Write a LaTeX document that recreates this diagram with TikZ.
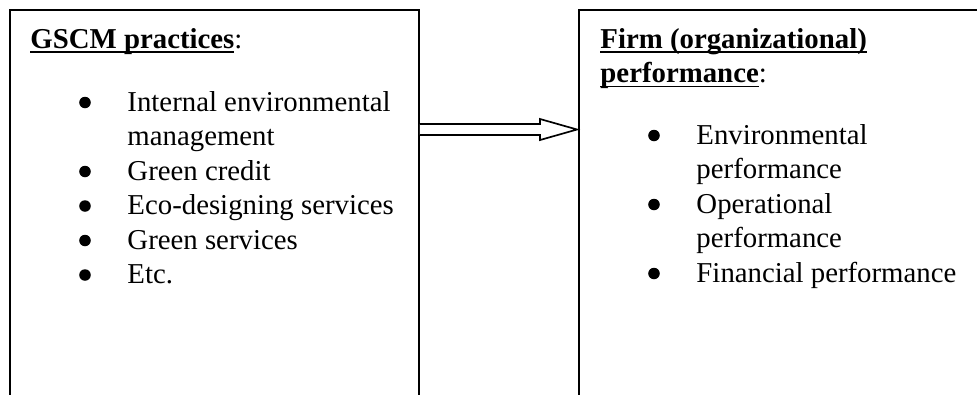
\documentclass[tikz,border=0pt]{standalone}
\usepackage{fontspec}
\setmainfont{Liberation Serif}
\usetikzlibrary{fit,calc}
\newcommand{\myul}[1]{\setbox0\hbox{#1}\rlap{\vrule height -1.25pt depth 2.0pt width \wd0}\box0}
\tikzset{
  boxst/.style={draw, line width=0.8pt, inner sep=0pt},
  txt/.style={anchor=base west, inner sep=0pt, font=\fontsize{12}{14.4}\selectfont},
  bul/.style={circle, fill=black, inner sep=0pt, minimum size=4.8pt},
  arr/.style={draw, line width=0.7pt, fill=white, line join=miter}
}
\begin{document}
\begin{tikzpicture}[x=0.41667pt, y=-0.41667pt]
\useasboundingbox (0,0) rectangle (977,394);
\clip (0,0) rectangle (977,394);
% boxes
\node[boxst, fit={(10,10) (419,440)}] (L) {};
\node[boxst, fit={(579,10) (1010,440)}] (R) {};
% left heading and items
\node[txt] (lh) at (30,48) {\myul{\textbf{GSCM practices}}:};
\node[txt] (l1) at (127,111) {Internal environmental};
\node[txt] (l2) at (127,145.5) {management};
\node[txt] (l3) at (127,180) {Green credit};
\node[txt] (l4) at (127,214.5) {Eco-designing services};
\node[txt] (l5) at (127,249) {Green services};
\node[txt] (l6) at (127,283.5) {Etc.};
\node[bul] (lb1) at (85,102.5) {};
\node[bul] (lb3) at (85,171.5) {};
\node[bul] (lb4) at (85,206) {};
\node[bul] (lb5) at (85,240.5) {};
\node[bul] (lb6) at (85,275) {};
% right heading and items
\node[txt] (rh1) at (600,48) {\myul{\textbf{Firm (organizational)}}};
\node[txt] (rh2) at (600,82.5) {\myul{\textbf{performance}}:};
\node[txt] (r1) at (696,144) {Environmental};
\node[txt] (r2) at (696,178.5) {performance};
\node[txt] (r3) at (696,213) {Operational};
\node[txt] (r4) at (696,247.5) {performance};
\node[txt] (r5) at (696,282) {Financial performance};
\node[bul] (rb1) at (654,135.5) {};
\node[bul] (rb3) at (654,204.5) {};
\node[bul] (rb5) at (654,273.5) {};
% hollow block arrow from L to R
\coordinate (as) at (L.east |- 0,129.5);
\coordinate (at) at (R.west |- 0,129.5);
\draw[arr] ($(as)+(0,-5.5)$) -- ($(at)+(-38,-5.5)$) -- ($(at)+(-38,-10.5)$)
  -- ($(at)+(-1,0)$) -- ($(at)+(-38,10.5)$) -- ($(at)+(-38,5.5)$) -- ($(as)+(0,5.5)$);
\end{tikzpicture}
\end{document}
